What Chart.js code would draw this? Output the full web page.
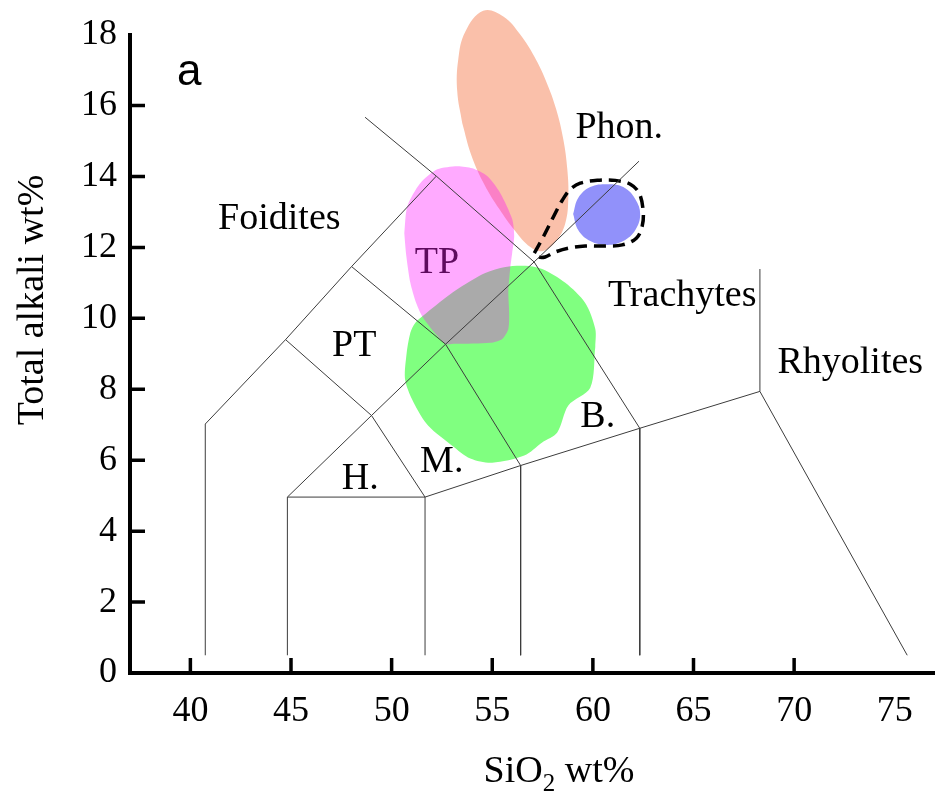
<!DOCTYPE html>
<html>
<head>
<meta charset="utf-8">
<title>TAS diagram</title>
<script src="https://cdn.jsdelivr.net/npm/chart.js@4.4.1/dist/chart.umd.min.js"></script>
<style>
  html, body { margin: 0; padding: 0; background: #fff; }
  #wrap { width: 935px; height: 795px; }
</style>
</head>
<body>
<div id="wrap"><canvas id="tas"></canvas></div>
<script>
// ── Axes ──────────────────────────────────────────────────────────────────────
const X_MIN = 37, X_MAX = 77;
const Y_MIN = 0,  Y_MAX = 18;
const X_TICKS = [40, 45, 50, 55, 60, 65, 70, 75];
const Y_TICKS = [0, 2, 4, 6, 8, 10, 12, 14, 16, 18];
const X_MARKS = [40, 45, 50, 55, 60, 65, 70];       // inward tick marks
const Y_MARKS = [2, 4, 6, 8, 10, 12, 14, 16];

// ── TAS field boundaries [SiO2, Na2O+K2O] ─────────────────────────────────────
const edgeFoidite   = [[40.74, 0.5], [40.74, 7.02], [44.73, 9.40], [48.01, 11.46], [52.22, 14.01]];
const edgePhonolite = [[48.68, 15.67], [52.22, 14.01], [57.08, 11.59], [62.33, 6.90], [62.33, 0.5]];
const edgeAlkaline  = [[44.82, 0.5], [44.82, 4.96], [49.0, 7.26], [52.68, 9.27], [57.08, 11.59], [62.29, 14.43]];
const edgeSubalk    = [[44.82, 4.96], [51.66, 4.96], [56.41, 5.85], [62.33, 6.90], [68.30, 7.94], [75.62, 0.5]];
const edgeBasanite  = [[51.66, 0.5], [51.66, 4.96], [49.0, 7.26], [44.73, 9.40]];
const edgeTephri    = [[48.01, 11.46], [52.68, 9.27], [56.41, 5.85], [56.41, 0.5]];
const edgeRhyolite  = [[68.30, 7.94], [68.30, 11.39]];

// ── Sample fields (outlines) ──────────────────────────────────────────────────
const fieldOrange = [
  [53.51, 15.50], [53.26, 16.40], [53.31, 17.30], [53.66, 18.08], [54.55, 18.67],
  [55.55, 18.51], [56.39, 18.00], [57.09, 17.38], [57.68, 16.68], [58.18, 15.89],
  [58.53, 15.05], [58.73, 14.20], [58.78, 13.39], [58.63, 12.68], [58.18, 12.18],
  [57.53, 11.90], [56.89, 12.01], [56.14, 12.46], [55.35, 13.08], [54.60, 13.78],
  [53.96, 14.60], [53.51, 15.50],
];
const fieldPink = [
  [50.63, 12.40], [50.78, 13.16], [51.42, 13.81], [52.27, 14.20], [53.26, 14.29],
  [54.01, 14.23], [54.75, 14.01], [55.40, 13.53], [55.99, 12.80], [56.09, 12.32],
  [55.99, 11.84], [55.89, 11.39], [55.80, 10.77], [55.84, 10.15], [55.80, 9.70],
  [55.50, 9.42], [54.90, 9.31], [53.16, 9.28], [52.66, 9.28], [51.57, 10.01],
  [51.22, 10.43], [50.93, 11.00], [50.73, 11.76], [50.63, 12.40],
];
const fieldGreen = [
  [60.12, 9.20], [59.87, 8.04], [58.78, 7.54], [58.23, 6.78], [57.48, 6.50],
  [56.59, 6.13], [55.00, 5.93], [53.91, 6.05], [53.01, 6.41], [51.82, 6.97],
  [51.17, 7.54], [50.68, 8.24], [50.73, 8.94], [50.93, 9.59], [51.17, 9.87],
  [51.67, 10.12], [52.66, 10.57], [53.51, 10.91], [54.65, 11.28], [55.65, 11.45],
  [56.64, 11.48], [57.48, 11.39], [58.63, 11.00], [59.62, 10.43], [60.12, 9.70],
  [60.12, 9.20],
];
const fieldBlue = [
  [59.02, 12.94], [59.27, 12.49], [59.87, 12.18], [60.71, 12.07], [61.51, 12.18],
  [62.11, 12.49], [62.35, 12.94], [62.11, 13.36], [61.51, 13.70], [60.71, 13.78],
  [59.87, 13.70], [59.27, 13.39], [59.02, 12.94],
];
const fieldDashed = [
  [57.09, 11.84], [57.53, 12.29], [58.03, 12.85], [58.48, 13.33], [58.88, 13.64],
  [59.37, 13.81], [60.22, 13.89], [61.11, 13.89], [61.86, 13.78], [62.30, 13.53],
  [62.50, 13.02], [62.45, 12.60], [62.16, 12.26], [61.46, 12.07], [60.61, 12.04],
  [59.62, 12.04], [58.78, 11.98], [58.13, 11.87], [57.63, 11.73], [57.29, 11.73],
  [57.09, 11.84],
];

// ── Field names (centre of each label, data units) ────────────────────────────
const ROCK_NAMES = ['Foidites', 'PT', 'TP', 'H.', 'M.', 'B.', 'Trachytes', 'Rhyolites', 'Phon.'];
const ROCK_X     = [44.42, 48.14, 52.25, 48.44, 52.49, 60.24, 64.44, 72.79, 61.31];
const ROCK_Y     = [12.88, 9.28, 11.64, 5.54, 6.02, 7.28, 10.69, 8.80, 15.44];
const PANEL_TAG  = 'a';
const PANEL_X = 39.94, PANEL_Y = 16.90;

// ── Style ─────────────────────────────────────────────────────────────────────
const SERIF = '"Liberation Serif", "Times New Roman", serif';
const SANS  = '"Liberation Sans", Arial, sans-serif';
const TICK_LEN = 15;

const pts = arr => arr.map(([x, y]) => ({ x, y }));

function edge(arr) {
  return {
    data: pts(arr), showLine: true, tension: 0,
    borderColor: '#3c3c3c', borderWidth: 1, pointRadius: 0, order: 1, clip: false,
  };
}

function area(arr, color, tension, order) {
  return {
    data: pts(arr), showLine: true, tension,
    borderColor: 'rgba(0,0,0,0)', borderWidth: 1, areaColor: color,
    pointRadius: 0, order, clip: false,
  };
}

// fill the (smoothed) outline of a dataset using the line element's own path
const areaFill = {
  id: 'areaFill',
  beforeDatasetDraw(chart, args) {
    const ds = chart.data.datasets[args.index];
    if (!ds.areaColor) return;
    const line = args.meta.dataset;
    const ctx = chart.ctx;
    line.updateControlPoints(chart.chartArea, 'x');
    ctx.save();
    ctx.beginPath();
    line.path(ctx);
    ctx.closePath();
    ctx.fillStyle = ds.areaColor;
    ctx.fill();
    ctx.restore();
  },
};

// tick marks pointing inwards, field names, axis titles
const decorations = {
  id: 'decorations',
  afterDraw(chart) {
    const { ctx, chartArea: ca, scales: { x, y } } = chart;
    ctx.save();

    ctx.strokeStyle = '#000';
    ctx.lineWidth = 3.5;
    ctx.beginPath();
    X_MARKS.forEach(v => {
      const px = x.getPixelForValue(v);
      ctx.moveTo(px, ca.bottom);
      ctx.lineTo(px, ca.bottom - TICK_LEN);
    });
    Y_MARKS.forEach(v => {
      const py = y.getPixelForValue(v);
      ctx.moveTo(ca.left, py);
      ctx.lineTo(ca.left + TICK_LEN, py);
    });
    ctx.stroke();

    ctx.textAlign = 'center';
    ctx.textBaseline = 'alphabetic';
    ctx.font = `38px ${SERIF}`;
    ROCK_NAMES.forEach((name, i) => {
      ctx.fillStyle = name === 'TP' ? '#5e0b5e' : '#000';
      ctx.fillText(name, x.getPixelForValue(ROCK_X[i]), y.getPixelForValue(ROCK_Y[i]) + 12.5);
    });

    ctx.fillStyle = '#000';
    ctx.font = `44px ${SANS}`;
    ctx.fillText(PANEL_TAG, x.getPixelForValue(PANEL_X), y.getPixelForValue(PANEL_Y) + 11);

    // y title
    ctx.save();
    ctx.translate(ca.left - 87, 300);
    ctx.rotate(-Math.PI / 2);
    ctx.font = `38px ${SERIF}`;
    ctx.fillText('Total alkali wt%', 0, 0);
    ctx.restore();

    // x title with subscript
    ctx.textAlign = 'left';
    ctx.font = `38px ${SERIF}`;
    const w1 = ctx.measureText('SiO').width;
    const w3 = ctx.measureText(' wt%').width;
    ctx.font = `25px ${SERIF}`;
    const w2 = ctx.measureText('2').width;
    let sx = 559 - (w1 + w2 + w3) / 2;
    const base = 782;
    ctx.font = `38px ${SERIF}`;
    ctx.fillText('SiO', sx, base);
    sx += w1;
    ctx.font = `25px ${SERIF}`;
    ctx.fillText('2', sx, base + 9);
    sx += w2;
    ctx.font = `38px ${SERIF}`;
    ctx.fillText(' wt%', sx, base);

    ctx.restore();
  },
};

new Chart(document.getElementById('tas'), {
  type: 'scatter',
  data: {
    datasets: [
      edge(edgeFoidite), edge(edgePhonolite), edge(edgeAlkaline), edge(edgeSubalk),
      edge(edgeBasanite), edge(edgeTephri), edge(edgeRhyolite),
      {
        data: pts(fieldDashed), showLine: true, tension: 0.35,
        borderColor: '#000', borderWidth: 3.5, borderDash: [12, 7],
        pointRadius: 0, order: 2, clip: false,
      },
      area(fieldBlue, 'rgb(145,145,250)', 0.4, 3),
      area(fieldPink, 'rgba(255,0,255,0.335)', 0.25, 4),
      area(fieldOrange, 'rgb(250,192,170)', 0.4, 5),
      area(fieldGreen, 'rgb(128,255,128)', 0.3, 6),
    ],
  },
  options: {
    responsive: true,
    maintainAspectRatio: false,
    animation: false,
    events: [],
    layout: { padding: { top: 33, right: 0, bottom: 0, left: 0 } },
    elements: { line: { capBezierPoints: false } },
    plugins: { legend: { display: false }, tooltip: { enabled: false } },
    scales: {
      x: {
        type: 'linear', min: X_MIN, max: X_MAX,
        afterBuildTicks: s => { s.ticks = X_TICKS.map(v => ({ value: v })); },
        afterFit: s => { s.height = 122; },
        grid: { display: false, drawTicks: false },
        border: { display: true, color: '#000', width: 4 },
        ticks: { color: '#000', padding: 17, font: { family: SERIF, size: 36 }, maxRotation: 0 },
      },
      y: {
        type: 'linear', min: Y_MIN, max: Y_MAX,
        afterBuildTicks: s => { s.ticks = Y_TICKS.map(v => ({ value: v })); },
        afterFit: s => { s.width = 130; },
        grid: { display: false, drawTicks: false },
        border: { display: true, color: '#000', width: 4 },
        ticks: { color: '#000', padding: 13, font: { family: SERIF, size: 36 } },
      },
    },
  },
  plugins: [areaFill, decorations],
});
</script>
</body>
</html>
